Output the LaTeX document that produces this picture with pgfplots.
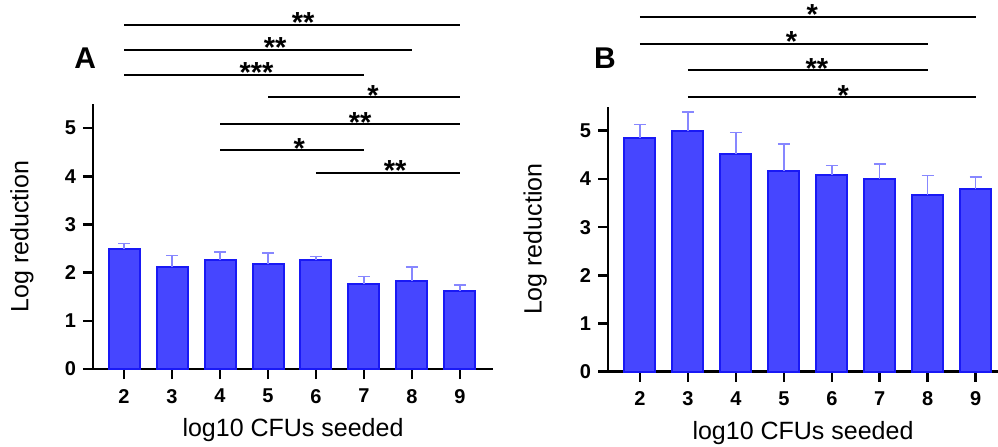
\documentclass[border=0pt]{standalone}
\usepackage{fontspec}
\setmainfont{Liberation Sans}
\usepackage{pgfplots}
\usepackage{pgfplotstable}
\pgfplotsset{compat=1.18}

\definecolor{barfill}{RGB}{70,70,255}
\definecolor{baredge}{RGB}{25,25,245}
\definecolor{errc}{RGB}{135,135,255}

% panel A: mean and upper SD
\pgfplotstableread{
x y e
2 2.50 0.11
3 2.12 0.24
4 2.26 0.17
5 2.17 0.24
6 2.26 0.08
7 1.77 0.15
8 1.83 0.29
9 1.62 0.12
}\dataA

% panel B
\pgfplotstableread{
x y e
2 4.85 0.28
3 4.99 0.40
4 4.52 0.45
5 4.17 0.56
6 4.08 0.20
7 4.00 0.31
8 3.67 0.40
9 3.79 0.25
}\dataB

\pgfplotsset{
  panel/.style={
    scale only axis, clip=false,
    axis x line*=bottom, axis y line*=left,
    axis line style={line width=1.3pt, black},
    ymin=0, ymax=5.5,
    xtick={2,...,9}, ytick={0,...,5},
    tick align=outside, major tick length=5pt,
    tick style={line width=1.3pt, black},
    /pgf/number format/assume math mode=true,
    ticklabel style={font=\bfseries\fontsize{10}{12}\selectfont},
    xticklabel style={yshift=-1.5pt},
    label style={font=\fontsize{12.5}{14}\selectfont},
    xlabel={log10 CFUs seeded}, ylabel={Log reduction},
    xlabel style={at={(axis description cs:0.5,-0.23)}, anchor=center},
    ylabel style={anchor=center},
  },
  bars/.style={
    ybar, bar width=15.5pt, fill=barfill, draw=baredge, line width=1pt,
    error bars/.cd, y dir=plus, y explicit,
    error bar style={color=errc, line width=0.7pt},
    error mark options={rotate=90, errc, mark size=3pt, line width=0.7pt},
  },
}
\tikzset{
  sig/.style={line width=1pt, black},
  star/.style={anchor=base, yshift=-4pt, inner sep=0pt, font=\bfseries\fontsize{14.5}{14}\selectfont},
  panlab/.style={font=\bfseries\fontsize{15}{18}\selectfont},
}

\begin{document}
\begin{tikzpicture}
\useasboundingbox (0,0) rectangle (499pt,223pt);

% A
\begin{axis}[panel, at={(46.5pt,38.5pt)}, anchor=south west,
  width=200pt, height=132.5pt, xmin=1.354, xmax=9.6875,
  ylabel style={at={(axis description cs:-0.1775,0.5)}}]
\addplot[bars] table[x=x, y=y, y error=e]{\dataA};
\draw[sig] (axis cs:2,7.15) -- (axis cs:9,7.15);
\node[star] at (axis cs:5.73,7.15) {**};
\draw[sig] (axis cs:2,6.63) -- (axis cs:8,6.63);
\node[star] at (axis cs:5.15,6.63) {**};
\draw[sig] (axis cs:2,6.11) -- (axis cs:7,6.11);
\node[star] at (axis cs:4.76,6.11) {***};
\draw[sig] (axis cs:5,5.64) -- (axis cs:9,5.64);
\node[star] at (axis cs:7.19,5.64) {*};
\draw[sig] (axis cs:4,5.08) -- (axis cs:9,5.08);
\node[star] at (axis cs:6.92,5.08) {**};
\draw[sig] (axis cs:4,4.54) -- (axis cs:7,4.54);
\node[star] at (axis cs:5.65,4.54) {*};
\draw[sig] (axis cs:6,4.07) -- (axis cs:9,4.07);
\node[star] at (axis cs:7.65,4.07) {**};
\node[panlab] at (axis cs:1.19,6.45) {A};
\end{axis}

% B
\begin{axis}[panel, at={(304pt,37.15pt)}, anchor=south west,
  width=195pt, height=132.5pt, xmin=1.333, xmax=9.465,
  ylabel style={at={(axis description cs:-0.187,0.5)}}]
\addplot[bars] table[x=x, y=y, y error=e]{\dataB};
\draw[sig] (axis cs:2,7.37) -- (axis cs:9,7.37);
\node[star] at (axis cs:5.59,7.37) {*};
\draw[sig] (axis cs:2,6.81) -- (axis cs:8,6.81);
\node[star] at (axis cs:5.16,6.81) {*};
\draw[sig] (axis cs:3,6.26) -- (axis cs:8,6.26);
\node[star] at (axis cs:5.69,6.26) {**};
\draw[sig] (axis cs:3,5.70) -- (axis cs:9,5.70);
\node[star] at (axis cs:6.24,5.70) {*};
\node[panlab] at (axis cs:1.27,6.51) {B};
\end{axis}
\end{tikzpicture}
\end{document}
